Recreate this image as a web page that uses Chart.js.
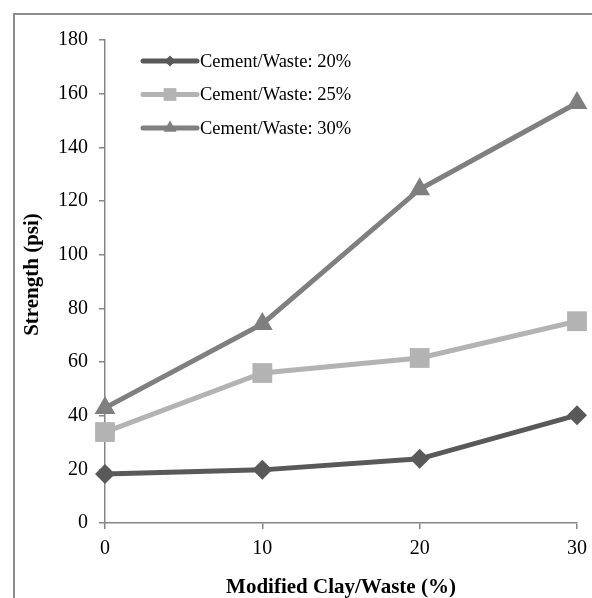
<!DOCTYPE html>
<html>
<head>
<meta charset="utf-8">
<script src="https://cdn.jsdelivr.net/npm/chart.js@4/dist/chart.umd.min.js"></script>
<style>
html,body{margin:0;padding:0;background:#fff;}
#wrap{position:relative;width:592px;height:598px;}
</style>
</head>
<body>
<div id="wrap"><canvas id="c" width="592" height="598"></canvas></div>
<script>
const xValues = [0, 10, 20, 30];
const seriesLabels = ['Cement/Waste: 20%', 'Cement/Waste: 25%', 'Cement/Waste: 30%'];
const cement20 = [18.3, 19.8, 23.9, 40.2];
const cement25 = [33.9, 55.9, 61.5, 75.2];
const cement30 = [42.9, 74.2, 124.4, 156.5];
const yTicks = [0, 20, 40, 60, 80, 100, 120, 140, 160, 180];
const xTitle = 'Modified Clay/Waste (%)';
const yTitle = 'Strength (psi)';

const colors = ['#595959', '#b3b3b3', '#7f7f7f'];
const styles = ['rectRot', 'rect', 'triangle'];
const radii = [10, 14, 12];
const legendRadii = [5.5, 9, 7.5];
const axisColor = '#868686';
const serif = "'Liberation Serif', 'Times New Roman', serif";

function pts(vals) { return xValues.map((x, i) => ({x: x, y: vals[i]})); }
const allSeries = [cement20, cement25, cement30];

const datasets = allSeries.map((vals, i) => ({
  label: seriesLabels[i],
  data: pts(vals),
  borderColor: colors[i],
  backgroundColor: colors[i],
  borderWidth: 5,
  pointStyle: styles[i],
  pointRadius: radii[i],
  pointBorderWidth: 0,
  pointBackgroundColor: colors[i],
  tension: 0,
  clip: false,
  order: 2 - i
}));

const frame = {
  id: 'frame',
  beforeDraw(chart) {
    const ctx = chart.ctx;
    ctx.save();
    ctx.strokeStyle = '#8c8c8c';
    ctx.lineWidth = 2;
    ctx.strokeRect(14, 14, 700, 700);
    ctx.restore();
  }
};

const yTitleDraw = {
  id: 'yTitleDraw',
  afterDraw(chart) {
    const ctx = chart.ctx;
    const area = chart.chartArea;
    ctx.save();
    ctx.translate(33, (area.top + area.bottom) / 2 - 7);
    ctx.rotate(-Math.PI / 2);
    ctx.fillStyle = '#000';
    ctx.font = 'bold 21px ' + serif;
    ctx.textAlign = 'center';
    ctx.textBaseline = 'middle';
    ctx.fillText(yTitle, 0, 0);
    ctx.restore();
  }
};

const insideLegend = {
  id: 'insideLegend',
  afterDraw(chart) {
    const ctx = chart.ctx;
    const area = chart.chartArea;
    ctx.save();
    chart.data.datasets.forEach((ds, i) => {
      const y = area.top + 21 + i * 33.5;
      const x0 = area.left + 38, x1 = area.left + 92;
      ctx.strokeStyle = ds.borderColor;
      ctx.lineWidth = 5;
      ctx.lineCap = 'round';
      ctx.beginPath(); ctx.moveTo(x0, y); ctx.lineTo(x1, y); ctx.stroke();
      ctx.fillStyle = ds.backgroundColor;
      Chart.helpers.drawPoint(ctx, {pointStyle: ds.pointStyle, radius: legendRadii[i], borderWidth: 0, rotation: 0}, (x0 + x1) / 2, y);
      ctx.fillStyle = '#000';
      ctx.font = '18.5px ' + serif;
      ctx.textBaseline = 'middle';
      ctx.textAlign = 'left';
      ctx.fillText(ds.label, x1 + 3, y + 1);
    });
    ctx.restore();
  }
};

new Chart(document.getElementById('c'), {
  type: 'line',
  data: { datasets: datasets },
  plugins: [frame, insideLegend, yTitleDraw],
  options: {
    responsive: false,
    animation: false,
    devicePixelRatio: 1,
    layout: { padding: { left: 14, top: 40, right: 15, bottom: 0 } },
    plugins: { legend: { display: false }, tooltip: { enabled: false } },
    scales: {
      x: {
        type: 'linear',
        min: 0, max: 30,
        afterBuildTicks(scale) { scale.ticks = xValues.map(v => ({value: v})); },
        afterFit(scale) { scale.height = 75; scale.paddingRight = 0; scale.paddingLeft = 0; },
        ticks: { color: '#000', font: { family: serif, size: 20 }, padding: 8, maxRotation: 0 },
        grid: { display: true, drawOnChartArea: false, drawTicks: true, tickLength: 6, color: axisColor, lineWidth: 1.5 },
        border: { display: true, color: axisColor, width: 1.5 },
        title: { display: true, text: xTitle, color: '#000', font: { family: serif, size: 21, weight: 'bold' }, padding: { top: 0, bottom: -2 } }
      },
      y: {
        min: 0, max: 180,
        afterBuildTicks(scale) { scale.ticks = yTicks.map(v => ({value: v})); },
        afterFit(scale) { scale.width = 91; },
        ticks: { color: '#000', font: { family: serif, size: 20 }, padding: 11 },
        grid: { display: true, drawOnChartArea: false, drawTicks: true, tickLength: 6, color: axisColor, lineWidth: 1.5 },
        border: { display: true, color: axisColor, width: 1.5 },
        title: { display: false, text: yTitle }
      }
    }
  }
});
</script>
</body>
</html>
